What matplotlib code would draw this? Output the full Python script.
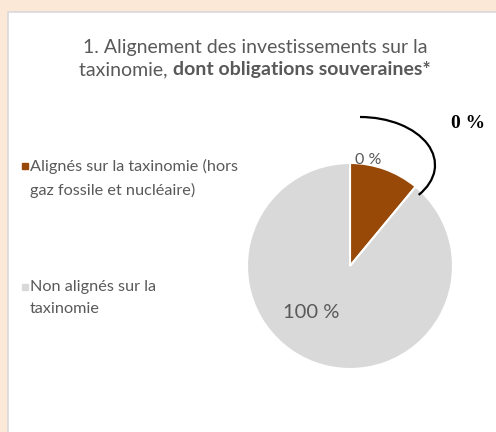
"""Pie: alignement des investissements sur la taxinomie (dont obligations souveraines)."""
import matplotlib
matplotlib.use("Agg")
import matplotlib.pyplot as plt
from matplotlib.patches import Rectangle, Arc

# data
categories = ["Alignés sur la taxinomie (hors\ngaz fossile et nucléaire)",
              "Non alignés sur la\ntaxinomie"]
shares = [11, 89]          # visual slice sizes
labels = ["0 %", "100 %"]  # printed labels
colors = ["#984807", "#D9D9D9"]
callout = "0 %"
title_1 = "1. Alignement des investissements sur la"
title_2a = "taxinomie, "
title_2b = "dont obligations souveraines*"

TXT = "#595959"
BG = "#FBE8D7"
W, H = 496, 432

plt.rcParams["font.family"] = ["Lato", "DejaVu Sans"]

fig = plt.figure(figsize=(W / 100, H / 100), dpi=100, facecolor=BG)
ax = fig.add_axes([0, 0, 1, 1])
ax.set_axis_off()

# white card
ax.add_patch(Rectangle((8, -5), W, H - 12 + 5, facecolor="white",
                       edgecolor="#D9D9D9", linewidth=1.2, zorder=0))

wedges, _ = ax.pie(shares, colors=colors, startangle=90, counterclock=False,
                   center=(350, H - 266), radius=103, explode=[0.02, 0],
                   wedgeprops=dict(edgecolor="white", linewidth=1.5))
ax.set_xlim(0, W)
ax.set_ylim(0, H)
ax.set_aspect("equal")

# slice labels
ax.text(368, H - 160, labels[0], color=TXT, fontsize=11.5, ha="center", va="center")
ax.text(311, H - 313, labels[1], color=TXT, fontsize=14.5, ha="center", va="center")

# callout arc + bold label
ax.add_patch(Arc((360, H - 165), 150, 96, theta1=-27, theta2=90,
                 color="black", linewidth=1.6))
ax.text(468, H - 123, callout, family="Liberation Serif", fontweight="bold",
        fontsize=14, ha="center", va="center", color="black")

# title (second line mixes regular and bold)
ax.text(255, H - 47, title_1, color=TXT, fontsize=14, ha="center", va="center")
fig.canvas.draw()
r = fig.canvas.get_renderer()
ta = ax.text(0, H - 70, title_2a, color=TXT, fontsize=14, ha="left", va="center")
tb = ax.text(0, H - 70, title_2b, color=TXT, fontsize=14, ha="left", va="center",
             fontweight="bold")
wa = ta.get_window_extent(r).width
wb = tb.get_window_extent(r).width
x0 = 255 - (wa + wb) / 2
ta.set_x(x0)
tb.set_x(x0 + wa)

# legend, drawn by hand so the marker sits on the first line
for y, name, c in zip([166, 287], categories, colors):
    ax.plot(25, H - y, marker="s", markersize=4.5, color=c, linestyle="none")
    ax.text(30, H - y + 7, name, color=TXT, fontsize=11.7, ha="left", va="top",
            linespacing=1.7)

fig.savefig("out.png", dpi=100, facecolor=BG)
